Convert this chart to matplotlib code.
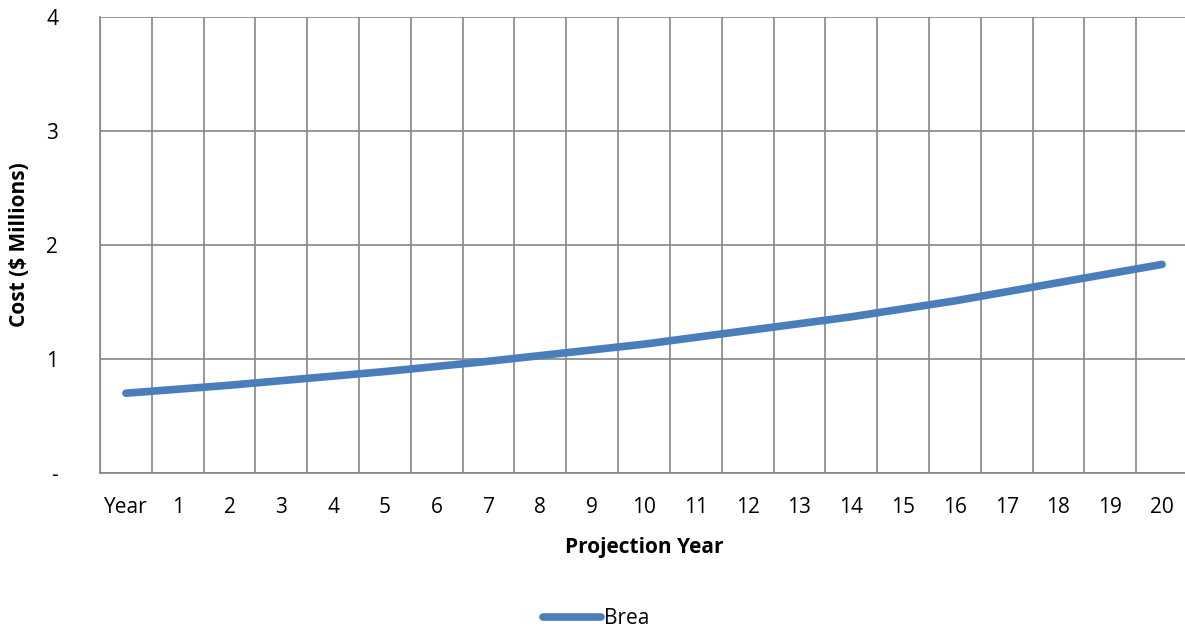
import matplotlib
matplotlib.use("Agg")
import matplotlib.pyplot as plt
import numpy as np

plt.rcParams['font.family'] = ['Open Sans', 'DejaVu Sans']

categories = ["Year"] + [str(i) for i in range(1, 21)]
brea_cost = [0.70, 0.735, 0.77, 0.81, 0.85, 0.89, 0.935, 0.98, 1.03, 1.08,
             1.13, 1.19, 1.25, 1.31, 1.37, 1.44, 1.51, 1.59, 1.67, 1.75, 1.83]
y_ticks = [0, 1, 2, 3, 4]
y_tick_labels = ["-", "1", "2", "3", "4"]

grid_color = "#868686"
line_color = "#4A7EBB"
W, H = 1185, 632
FS = 15

fig = plt.figure(figsize=(W / 100, H / 100), dpi=100)
ax = fig.add_axes([100 / W, 1 - 473 / H, 1088 / W, 456 / H])

x = np.arange(len(categories))
line, = ax.plot(x, brea_cost, color=line_color, lw=5.5,
                solid_capstyle="round", solid_joinstyle="round", label="Brea")

ax.set_xlim(-0.5, len(categories) - 0.5)
ax.set_ylim(0, 4)

ax.set_xticks(x)
ax.set_xticklabels(categories)
ax.set_xticks(np.arange(-0.5, len(categories)), minor=True)
ax.set_yticks(y_ticks)
ax.set_yticklabels(y_tick_labels)

ax.grid(False)
ax.grid(True, which="minor", axis="x", color=grid_color, lw=1.2)
ax.grid(True, which="major", axis="y", color=grid_color, lw=1.2)
ax.set_axisbelow(True)

ax.tick_params(axis="both", which="both", length=0, labelsize=FS, colors="black")
ax.tick_params(axis="x", pad=17)
ax.tick_params(axis="y", pad=30)

for side in ["top", "right"]:
    ax.spines[side].set_visible(False)
for side in ["left", "bottom"]:
    ax.spines[side].set_color(grid_color)
    ax.spines[side].set_linewidth(1.2)

fig.text(644 / W, 1 - 548 / H, "Projection Year", fontsize=FS,
         fontweight="bold", ha="center", va="center")
fig.text(20 / W, 1 - 245 / H, "Cost ($ Millions)", fontsize=FS,
         fontweight="bold", ha="center", va="center", rotation=90)

fig.legend(handles=[line], loc="center", bbox_to_anchor=(596 / W, 1 - 619 / H),
           frameon=False, fontsize=FS, handlelength=2.8, handletextpad=0.1,
           borderpad=0, borderaxespad=0)

fig.savefig("out.png", dpi=100)
